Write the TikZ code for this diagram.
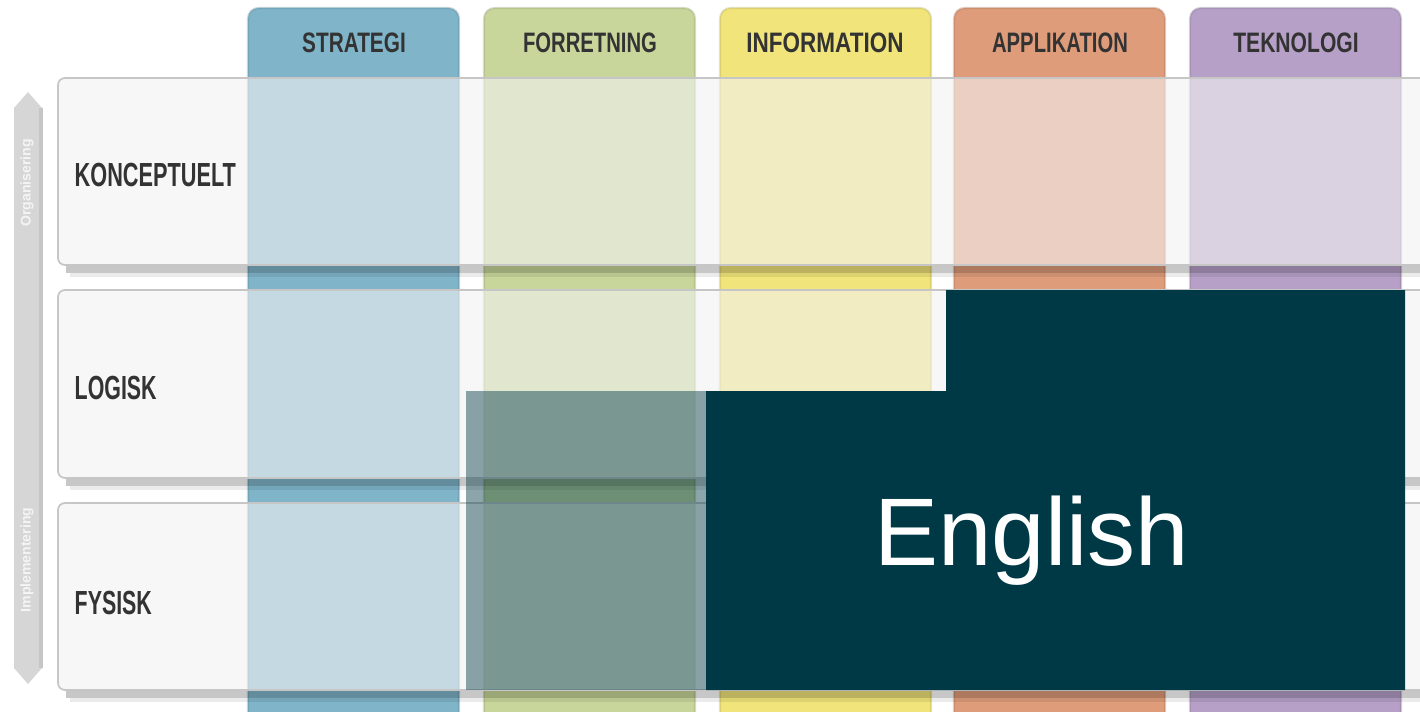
\documentclass[tikz,border=0pt]{standalone}
\usepackage{fontspec}
\setmainfont{Liberation Sans}
\usepackage{graphicx}

\definecolor{strat}{HTML}{7FB4C9}
\definecolor{forr}{HTML}{C8D69B}
\definecolor{info}{HTML}{F0E47A}
\definecolor{appl}{HTML}{DE9C7A}
\definecolor{tekn}{HTML}{B6A0C8}
\definecolor{deepteal}{HTML}{003946}
\definecolor{labelgray}{HTML}{333333}

\tikzset{
    colhead/.style={font=\fontsize{8}{9}\selectfont\bfseries, text=labelgray, inner sep=0pt},
    rowlabel/.style={font=\fontsize{9.5}{11}\selectfont\bfseries, text=labelgray, inner sep=0pt, anchor=west},
    rowband/.style={fill=gray!10, fill opacity=.6, draw=gray!45, line width=.5pt},
    arrowtext/.style={font=\fontsize{4}{5}\selectfont\bfseries, text=white, text opacity=.75, rotate=90, inner sep=0pt}
}

\newcommand{\narrow}[2]{\scalebox{#1}[1]{#2}}

\begin{document}
\begin{tikzpicture}[x=0.01cm, y=-0.01cm]
    \useasboundingbox[fill=white] (0,0) rectangle (1420,712);

    % columns
    \foreach \x/\c in {248/strat, 484/forr, 720/info, 954/appl, 1190/tekn}{
        \fill[\c] (\x,712) [rounded corners=3pt] -- (\x,8) -- (\x+211,8) [sharp corners] -- (\x+211,712) -- cycle;
        \draw[\c!75!black, opacity=.35, line width=.6pt] (\x,712) [rounded corners=3pt] -- (\x,8) -- (\x+211,8) [sharp corners] -- (\x+211,712);
    }

    % rows
    \foreach \t/\b in {78/265, 290/478, 503/690}{
        \fill[black, opacity=.22] (66,\b) rectangle (1430,\b+8);
        \fill[black, opacity=.08] (70,\b+8) rectangle (1430,\b+12);
        \path[rowband, rounded corners=2pt] (58,\t) rectangle (1430,\b);
    }

    % side arrow
    \fill[gray!32] (14,108) -- (28,92) -- (42,108) -- (42,668) -- (28,684) -- (14,668) -- cycle;
    \draw[gray!45, line width=1pt] (41,108) -- (41,668);
    \node[arrowtext] (org) at (27,183) {Organisering};
    \node[arrowtext] (impl) at (27,560) {Implementering};

    % labels
    \node[colhead] (strategi) at (354,43) {\narrow{.74}{STRATEGI}};
    \node[colhead] (forretning) at (590,43) {\narrow{.72}{FORRETNING}};
    \node[colhead] (information) at (825,43) {\narrow{.8}{INFORMATION}};
    \node[colhead] (applikation) at (1060,43) {\narrow{.72}{APPLIKATION}};
    \node[colhead] (teknologi) at (1296,43) {\narrow{.75}{TEKNOLOGI}};

    \node[rowlabel] (konceptuelt) at (74,175) {\narrow{.65}{KONCEPTUELT}};
    \node[rowlabel] (logisk) at (74,388) {\narrow{.64}{LOGISK}};
    \node[rowlabel] (fysisk) at (74,603) {\narrow{.64}{FYSISK}};

    % overlay
    \fill[deepteal, opacity=.45] (466,391) rectangle (706,690);
    \fill[deepteal] (946,290) -- (1405,290) -- (1405,690) -- (706,690) -- (706,391) -- (946,391) -- cycle;
    \node[text=white, font=\fontsize{27.3}{33}\selectfont, inner sep=0pt] (english) at (1032,541) {English};
\end{tikzpicture}
\end{document}
